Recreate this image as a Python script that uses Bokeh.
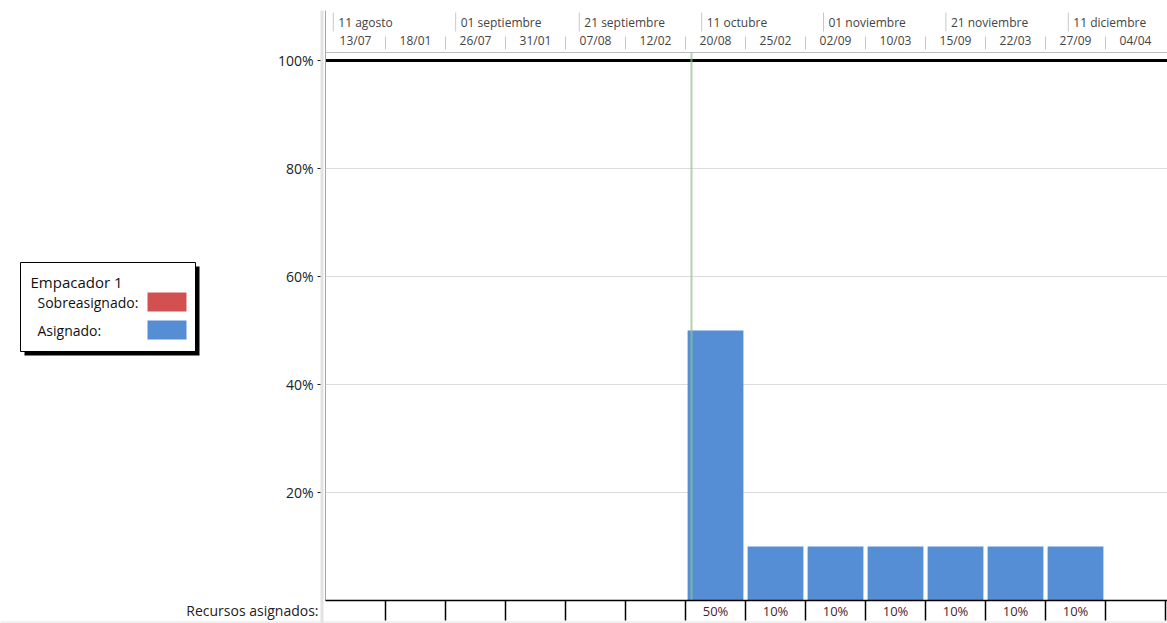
from bokeh.plotting import figure
from bokeh.models import Range1d
from bokeh.core.properties import value
from bokeh.embed import file_html
from bokeh.resources import INLINE

# ---------------- data ----------------
periods = ["13/07", "18/01", "26/07", "31/01", "07/08", "12/02", "20/08",
           "25/02", "02/09", "10/03", "15/09", "22/03", "27/09", "04/04"]
asignado = [0, 0, 0, 0, 0, 0, 50, 10, 10, 10, 10, 10, 10, 0]
sobreasignado = [0] * 14
upper_labels = ["11 agosto", "01 septiembre", "21 septiembre", "11 octubre",
                "01 noviembre", "21 noviembre", "11 diciembre"]
upper_pos = [0.13, 2.17, 4.23, 6.27, 8.30, 10.34, 12.38]
y_ticks = [20, 40, 60, 80, 100]
y_tick_labels = ["20%", "40%", "60%", "80%", "100%"]
today_pos = 6.1
resource_name = "Empacador 1"
row_label = "Recursos asignados:"

# ---------------- layout helpers ----------------
W, H = 1167, 623
X0, COLW = 325, 60.0
Y0, PXPCT = 600.0, 5.4
def px2x(px):
    return (px - X0) / COLW
def py2y(py):
    return (Y0 - py) / PXPCT

FONT = value("Open Sans")
n = len(periods)
xr = px2x(W)

p = figure(width=W, height=H, output_backend="svg", toolbar_location=None,
           x_range=Range1d(px2x(0), px2x(W)), y_range=Range1d(py2y(H), py2y(0)),
           min_border=0, min_border_left=0, min_border_right=0,
           min_border_top=0, min_border_bottom=0)
p.axis.visible = False
p.grid.visible = False
p.outline_line_color = None
p.background_fill_color = "white"
p.border_fill_color = "white"

# bottom scrollbar strip
p.quad(left=px2x(0), right=px2x(W), bottom=py2y(H), top=py2y(620.5),
       fill_color="#f0f0f0", line_color=None)

# gridlines
p.segment(x0=[0] * 4, x1=[xr] * 4, y0=y_ticks[:-1], y1=y_ticks[:-1],
          line_color="#dcdcdc", line_width=1)
# 100% line
p.segment(x0=[0], x1=[xr], y0=[100], y1=[100], line_color="black", line_width=3)

# left vertical lines
p.segment(x0=[px2x(321.5)], x1=[px2x(321.5)], y0=[py2y(10)], y1=[py2y(623)],
          line_color="#e2e2e2", line_width=3)
p.segment(x0=[0], x1=[0], y0=[py2y(10)], y1=[0], line_color="#a6a6a6", line_width=1)

# header
p.segment(x0=[0], x1=[xr], y0=[py2y(52)], y1=[py2y(52)], line_color="#bdbdbd", line_width=1)
p.segment(x0=upper_pos, x1=upper_pos, y0=[py2y(12)] * len(upper_pos),
          y1=[py2y(31)] * len(upper_pos), line_color="#c8c8c8", line_width=1)
p.text(x=[u + px2x(X0 + 5) for u in upper_pos], y=[py2y(22)] * len(upper_pos),
       text=upper_labels, text_font=FONT, text_font_size="12px",
       text_color="#444444", text_align="left", text_baseline="middle")
sep_x = list(range(1, n))
p.segment(x0=sep_x, x1=sep_x, y0=[py2y(36)] * len(sep_x), y1=[py2y(49)] * len(sep_x),
          line_color="#c8c8c8", line_width=1)
p.text(x=[i + 0.5 for i in range(n)], y=[py2y(40)] * n, text=periods,
       text_font=FONT, text_font_size="12px", text_color="#444444",
       text_align="center", text_baseline="middle")

# y tick labels and marks
p.text(x=[px2x(313)] * len(y_ticks), y=y_ticks, text=y_tick_labels,
       text_font=FONT, text_font_size="14px", text_color="#222222",
       text_align="right", text_baseline="middle")
p.segment(x0=[px2x(317)] * len(y_ticks), x1=[px2x(320)] * len(y_ticks),
          y0=y_ticks, y1=y_ticks, line_color="#222222", line_width=1)

# bars
bx = [i + 0.5 for i, v in enumerate(asignado) if v > 0]
bv = [v for v in asignado if v > 0]
p.vbar(x=bx, top=bv, bottom=0, width=0.93, fill_color="#558ed5", line_color=None)
ox = [i + 0.5 for i, v in enumerate(sobreasignado) if v > 0]
ov = [v for v in sobreasignado if v > 0]
p.vbar(x=ox, top=ov, bottom=0, width=0.93, fill_color="#d35050", line_color=None)

# today line
p.segment(x0=[today_pos], x1=[today_pos], y0=[0], y1=[py2y(52)],
          line_color="#8cc48c", line_alpha=0.7, line_width=2)

# bottom row table
p.segment(x0=[0], x1=[xr], y0=[0], y1=[0], line_color="black", line_width=1.5)
cells = list(range(1, n + 1))
p.segment(x0=cells, x1=cells, y0=[0] * n, y1=[py2y(620)] * n,
          line_color="black", line_width=1.5)
p.text(x=bx, y=[py2y(610)] * len(bx), text=[f"{v}%" for v in bv],
       text_font=FONT, text_font_size="13px", text_color="#4a1c2c",
       text_align="center", text_baseline="middle")
p.text(x=[px2x(318)], y=[py2y(610)], text=[row_label], text_font=FONT,
       text_font_size="14px", text_color="#222222", text_align="right",
       text_baseline="middle")

# legend box
p.quad(left=px2x(24), right=px2x(199), bottom=py2y(355), top=py2y(266),
       fill_color="black", line_color=None)
p.quad(left=px2x(20), right=px2x(195), bottom=py2y(351), top=py2y(262),
       fill_color="white", line_color="black", line_width=1)
p.text(x=[px2x(30)], y=[py2y(281)], text=[resource_name], text_font=FONT,
       text_font_size="15px", text_color="#111111", text_align="left",
       text_baseline="middle")
p.text(x=[px2x(37), px2x(37)], y=[py2y(302), py2y(330)],
       text=["Sobreasignado:", "Asignado:"], text_font=FONT,
       text_font_size="14px", text_color="#111111", text_align="left",
       text_baseline="middle")
p.quad(left=[px2x(147)] * 2, right=[px2x(186)] * 2,
       bottom=[py2y(311), py2y(339)], top=[py2y(292), py2y(320)],
       fill_color=["#d35050", "#558ed5"], line_color=None)

open("out.html", "w").write(file_html(p, INLINE))
